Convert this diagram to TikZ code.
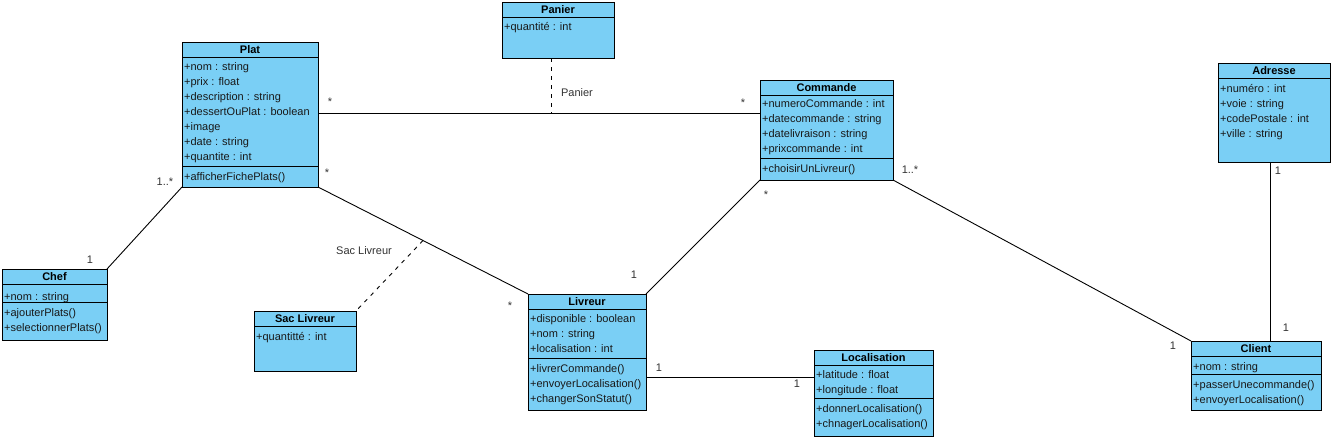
\documentclass[tikz,border=0pt]{standalone}
\usepackage{fontspec}
\setmainfont{Liberation Sans}
\usetikzlibrary{calc}
\definecolor{clsfill}{RGB}{122,207,245}
\definecolor{lblgray}{RGB}{51,51,51}
\tikzset{
  clsbox/.style={draw=black, fill=clsfill, line width=1pt, inner sep=0pt, outer sep=0pt, anchor=north west},
  ttl/.style={font=\fontsize{11}{12}\selectfont\bfseries, inner sep=0pt},
  mem/.style={font=\fontsize{11}{12}\selectfont, inner sep=0pt, anchor=west, text height=8pt, text depth=2.5pt, text=black!90, yshift=-1pt},
  sepline/.style={draw=black, line width=1pt},
  assoc/.style={draw=black, line width=0.9pt},
  dashassoc/.style={draw=black, line width=0.9pt, dash pattern=on 4pt off 5pt},
  mult/.style={font=\fontsize{11}{12}\selectfont, inner sep=0pt, text=lblgray},
  lbl/.style={font=\fontsize{11}{12}\selectfont, inner sep=0pt, text=lblgray},
}
\newcommand\umlbox[6]{%
  \node[clsbox, minimum width=#4pt, minimum height=#5pt] (#1) at (#2,#3) {};
  \node[ttl] (#1-t) at ($(#1.north)+(0,8)$) {#6};
  \draw[sepline] ($(#1.north west)+(0,15)$) -- ($(#1.north east)+(0,15)$);
}
\newcommand\umlsep[2]{%
  \draw[sepline] (#1.west |- 0,#2) -- (#1.east |- 0,#2);
}
\begin{document}
\begin{tikzpicture}[x=1pt,y=-1pt]
\useasboundingbox (0,0) rectangle (1333,440);
\fill[white] (0,0) rectangle (1333,440);

% ---------- classes ----------
\umlbox{plat}{182}{42}{136}{145}{Plat}
\umlsep{plat}{166.5}
\foreach \t [count=\i] in {+nom : string, +prix : float, +description : string, +dessertOuPlat : boolean, +image, +date : string, +quantite : int}
  \node[mem] (plat-a\i) at (184,{51.5+15*\i}) {\t};
\node[mem] (plat-m1) at (184,176.5) {+afficherFichePlats()};

\umlbox{panier}{502}{2}{112}{56}{Panier}
\node[mem] (panier-a1) at (504,26.5) {+quantité : int};

\umlbox{commande}{760}{80}{133}{100}{Commande}
\umlsep{commande}{158.5}
\foreach \t [count=\i] in {+numeroCommande : int, +datecommande : string, +datelivraison : string, +prixcommande : int}
  \node[mem] (commande-a\i) at (762,{88.5+15*\i}) {\t};
\node[mem] (commande-m1) at (762,168.5) {+choisirUnLivreur()};

\umlbox{adresse}{1218}{63}{112}{99}{Adresse}
\foreach \t [count=\i] in {+numéro : int, +voie : string, +codePostale : int, +ville : string}
  \node[mem] (adresse-a\i) at (1220,{73.5+15*\i}) {\t};

\umlbox{chef}{2}{269}{105}{71}{Chef}
\umlsep{chef}{302.5}
\node[mem] (chef-a1) at (4,296.5) {+nom : string};
\node[mem] (chef-m1) at (4,312.5) {+ajouterPlats()};
\node[mem] (chef-m2) at (4,328) {+selectionnerPlats()};

\umlbox{sac}{254}{311}{102}{60}{Sac Livreur}
\node[mem] (sac-a1) at (256,337) {+quantitté : int};

\umlbox{livreur}{528}{294}{118}{116}{Livreur}
\umlsep{livreur}{358.5}
\foreach \t [count=\i] in {+disponible : boolean, +nom : string, +localisation : int}
  \node[mem] (livreur-a\i) at (530,{303.5+15*\i}) {\t};
\foreach \t [count=\i] in {+livrerCommande(), +envoyerLocalisation(), +changerSonStatut()}
  \node[mem] (livreur-m\i) at (530,{353.5+15*\i}) {\t};

\umlbox{loc}{814}{350}{119}{86}{Localisation}
\umlsep{loc}{398.5}
\node[mem] (loc-a1) at (816,374.5) {+latitude : float};
\node[mem] (loc-a2) at (816,389.5) {+longitude : float};
\node[mem] (loc-m1) at (816,409) {+donnerLocalisation()};
\node[mem] (loc-m2) at (816,424) {+chnagerLocalisation()};

\umlbox{client}{1191}{341}{130}{69}{Client}
\umlsep{client}{374}
\node[mem] (client-a1) at (1193,366.5) {+nom : string};
\node[mem] (client-m1) at (1193,385) {+passerUnecommande()};
\node[mem] (client-m2) at (1193,399.5) {+envoyerLocalisation()};

% ---------- connectors ----------
\coordinate (pc) at (551,113);
\coordinate (ll) at (730,377);
\coordinate (ax) at (1270,250);
\draw[assoc] (plat.east |- pc) -- (commande.west |- pc);
\draw[dashassoc] (pc |- panier.south) -- (pc);
\draw[assoc] (plat.south west) -- (chef.north east);
\draw[assoc] (plat.south east) -- coordinate[pos=0.5] (sacmid) (livreur.north west);
\draw[dashassoc] (sacmid) -- (sac.north east);
\draw[assoc] (commande.south west) -- (livreur.north east);
\draw[assoc] (commande.south east) -- (client.north west);
\draw[assoc] (ax |- adresse.south) -- (ax |- client.north);
\draw[assoc] (livreur.east |- ll) -- (loc.west |- ll);

% ---------- labels ----------
\node[lbl] (lpanier) at (577,93) {Panier};
\node[lbl] (lsac) at (364,251) {Sac Livreur};
\node[mult] (m1) at (330,102) {*};
\node[mult] (m2) at (743,103) {*};
\node[mult] (m3) at (165,182) {1..*};
\node[mult] (m4) at (90,260) {1};
\node[mult] (m5) at (327,173) {*};
\node[mult] (m6) at (510,306) {*};
\node[mult] (m7) at (766,195) {*};
\node[mult] (m8) at (634,275) {1};
\node[mult] (m9) at (910,170) {1..*};
\node[mult] (m10) at (1173,346) {1};
\node[mult] (m11) at (1278,171) {1};
\node[mult] (m12) at (1286,328) {1};
\node[mult] (m13) at (659,368) {1};
\node[mult] (m14) at (797,384) {1};
\end{tikzpicture}
\end{document}
